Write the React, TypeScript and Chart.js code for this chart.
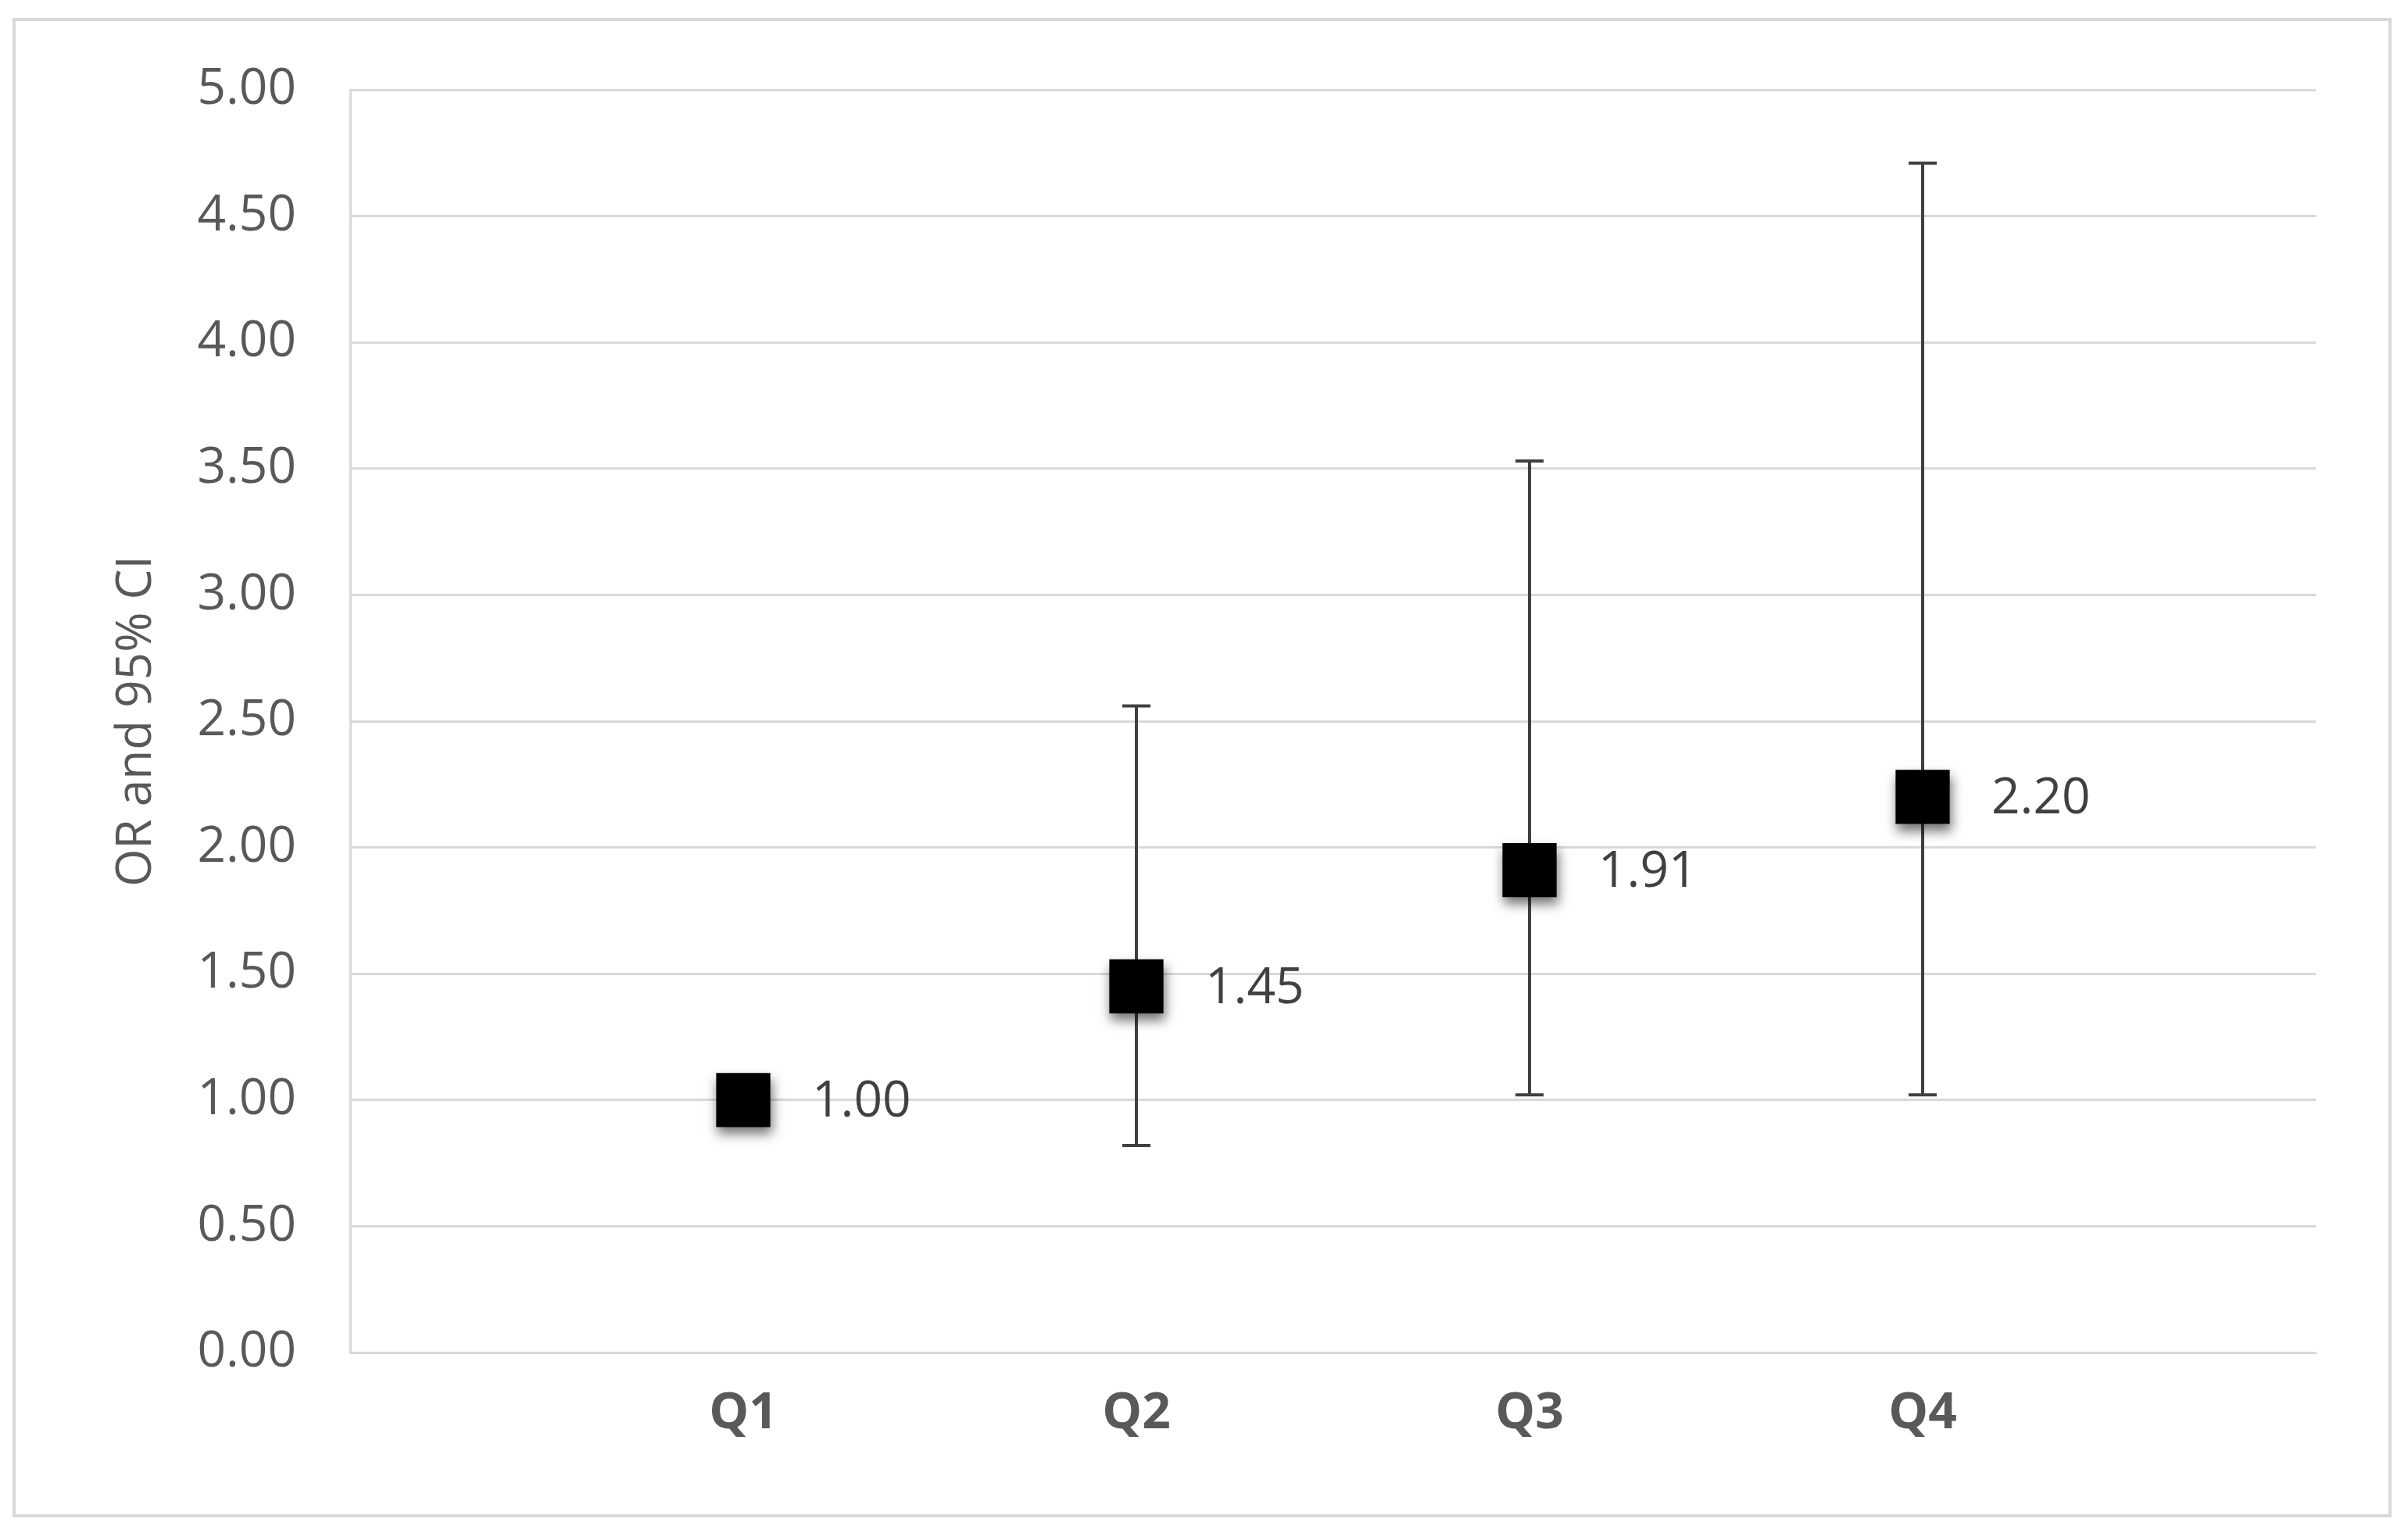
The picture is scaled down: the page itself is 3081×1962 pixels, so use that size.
import React, { useEffect, useRef } from "react";
import { Chart, registerables } from "chart.js";

Chart.register(...registerables);

const categories = ["Q1", "Q2", "Q3", "Q4"];
const xPositions = [1, 2, 3, 4];
const oddsRatios = [1.0, 1.45, 1.91, 2.2];
const ciLower: (number | null)[] = [null, 0.82, 1.02, 1.02];
const ciUpper: (number | null)[] = [null, 2.56, 3.53, 4.71];
const yAxisTitle = "OR and 95% CI";

const FONT = "'Open Sans', 'Noto Sans', sans-serif";

export default function App() {
  const ref = useRef<HTMLCanvasElement | null>(null);

  useEffect(() => {
    if (!ref.current) return;

    const errorBars = {
      id: "errorBars",
      beforeDatasetsDraw(chart: any) {
        const { ctx, scales } = chart;
        ctx.save();
        ctx.strokeStyle = "#404040";
        ctx.lineWidth = 4;
        for (let i = 0; i < xPositions.length; i++) {
          const lo = ciLower[i];
          const hi = ciUpper[i];
          if (lo == null || hi == null) continue;
          const x = scales.x.getPixelForValue(xPositions[i]);
          const yLo = scales.y.getPixelForValue(lo);
          const yHi = scales.y.getPixelForValue(hi);
          ctx.beginPath();
          ctx.moveTo(x, yHi);
          ctx.lineTo(x, yLo);
          ctx.moveTo(x - 18, yHi);
          ctx.lineTo(x + 18, yHi);
          ctx.moveTo(x - 18, yLo);
          ctx.lineTo(x + 18, yLo);
          ctx.stroke();
        }
        ctx.restore();
      },
    };

    const shadow = {
      id: "markerShadow",
      beforeDatasetDraw(chart: any) {
        const ctx = chart.ctx;
        ctx.save();
        ctx.shadowColor = "rgba(0,0,0,0.55)";
        ctx.shadowBlur = 14;
        ctx.shadowOffsetX = 2;
        ctx.shadowOffsetY = 9;
      },
      afterDatasetDraw(chart: any) {
        chart.ctx.restore();
      },
    };

    const dataLabels = {
      id: "dataLabels",
      afterDatasetsDraw(chart: any) {
        const { ctx } = chart;
        const meta = chart.getDatasetMeta(0);
        ctx.save();
        ctx.fillStyle = "#404040";
        ctx.font = `64px ${FONT}`;
        ctx.textAlign = "left";
        ctx.textBaseline = "middle";
        meta.data.forEach((pt: any, i: number) => {
          ctx.fillText(oddsRatios[i].toFixed(2), pt.x + 88, pt.y + 3);
        });
        ctx.restore();
      },
    };

    const chart = new Chart(ref.current, {
      type: "scatter",
      data: {
        datasets: [
          {
            data: xPositions.map((x, i) => ({ x, y: oddsRatios[i] })),
            pointStyle: "rect",
            pointRadius: 49,
            pointHoverRadius: 49,
            backgroundColor: "#000000",
            borderColor: "#000000",
            borderWidth: 0,
            showLine: false,
          },
        ],
      },
      options: {
        animation: false,
        responsive: false,
        events: [],
        layout: { padding: { top: 115, right: 118, bottom: 0, left: 0 } },
        plugins: {
          legend: { display: false },
          tooltip: { enabled: false },
        },
        scales: {
          x: {
            type: "linear",
            min: 0,
            max: 5,
            afterFit: (s: any) => {
              s.height = 231;
            },
            grid: { display: false, drawTicks: false },
            border: { display: true, color: "#d9d9d9", width: 3 },
            ticks: {
              stepSize: 1,
              padding: 40,
              color: "#595959",
              font: { family: FONT, size: 64, weight: "bold" },
              callback: (v: any) => {
                const idx = xPositions.indexOf(Number(v));
                return idx >= 0 ? categories[idx] : "";
              },
            },
          },
          y: {
            min: 0,
            max: 5,
            afterFit: (s: any) => {
              s.width = 448;
            },
            grid: { color: "#d9d9d9", lineWidth: 3, drawTicks: false },
            border: { display: true, color: "#d9d9d9", width: 3 },
            ticks: {
              stepSize: 0.5,
              padding: 69,
              color: "#595959",
              font: { family: FONT, size: 64 },
              callback: (v: any) => Number(v).toFixed(2),
            },
            title: {
              display: true,
              text: yAxisTitle,
              color: "#595959",
              font: { family: FONT, size: 62 },
              padding: { top: 138, bottom: 0 },
            },
          },
        },
      },
      plugins: [errorBars, shadow, dataLabels],
    });

    return () => chart.destroy();
  }, []);

  return (
    <div
      style={{
        position: "absolute",
        left: 0,
        top: 0,
        width: 3081,
        height: 1962,
        background: "#ffffff",
      }}
    >
      <div
        style={{
          position: "absolute",
          left: 16,
          top: 23,
          width: 3044,
          height: 1919,
          border: "4px solid #d9d9d9",
          boxSizing: "border-box",
        }}
      />
      <canvas
        ref={ref}
        width={3081}
        height={1962}
        style={{ position: "absolute", left: 0, top: 0 }}
      />
    </div>
  );
}
